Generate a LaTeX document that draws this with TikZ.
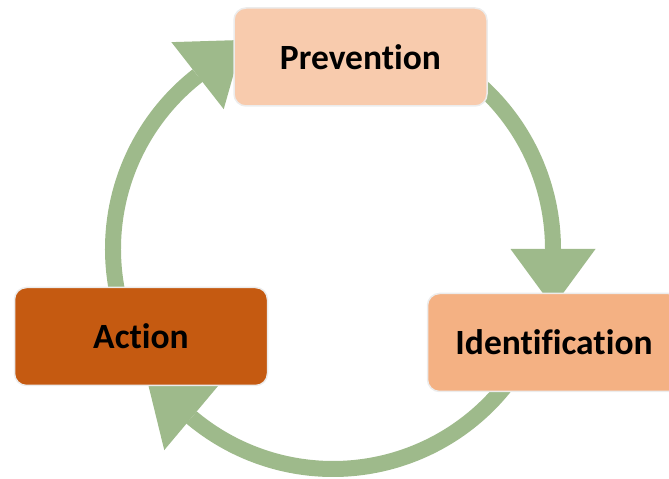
\documentclass[tikz,border=0pt]{standalone}
\usepackage{fontspec}
\setmainfont{Carlito}[Ligatures=NoCommon]
\usetikzlibrary{arrows.meta,positioning,calc}

\definecolor{ringgreen}{RGB}{158,186,139}
\definecolor{prevfill}{RGB}{248,203,173}
\definecolor{identfill}{RGB}{244,177,131}
\definecolor{actfill}{RGB}{197,90,17}
\definecolor{boxedge}{RGB}{236,236,236}

\tikzset{
    stagebox/.style={rectangle, rounded corners=12pt, draw=boxedge, line width=1.5pt,
        minimum width=253pt, minimum height=98pt, align=center,
        font=\fontsize{35.5}{40}\selectfont\bfseries},
    cyclearrow/.style={draw=ringgreen, line width=16pt,
        -{Triangle[length=58pt, width=85pt, line width=0pt]}}
}

\begin{document}
\begin{tikzpicture}[x=1pt, y=1pt]
    \clip (0,0) rectangle (669,479);

    % centre of the ring
    \coordinate (ring) at (333,230);

    %-----Arrows-----
    % Prevention to Identification
    \draw[cyclearrow] ($(ring)+(48:220)$) arc[start angle=48, end angle=0, radius=220] -- ++(-90:58);

    % Identification to Action
    \draw[cyclearrow] ($(ring)+(-36:220)$) arc[start angle=-36, end angle=-130, radius=220] -- ++(140:58);

    % Action to Prevention
    \draw[cyclearrow] ($(ring)+(195:220)$) arc[start angle=195, end angle=128, radius=220] -- ++(38:58);

    %-----Stages-----
    % Prevention
    \node[stagebox, fill=prevfill] (prevention) at (360.5,422) {Prevention};

    % Identification
    \node[stagebox, fill=identfill] (identification) at (554,136.5) {Identification};

    % Action
    \node[stagebox, fill=actfill] (action) at (141,142.5) {Action};

\end{tikzpicture}
\end{document}
